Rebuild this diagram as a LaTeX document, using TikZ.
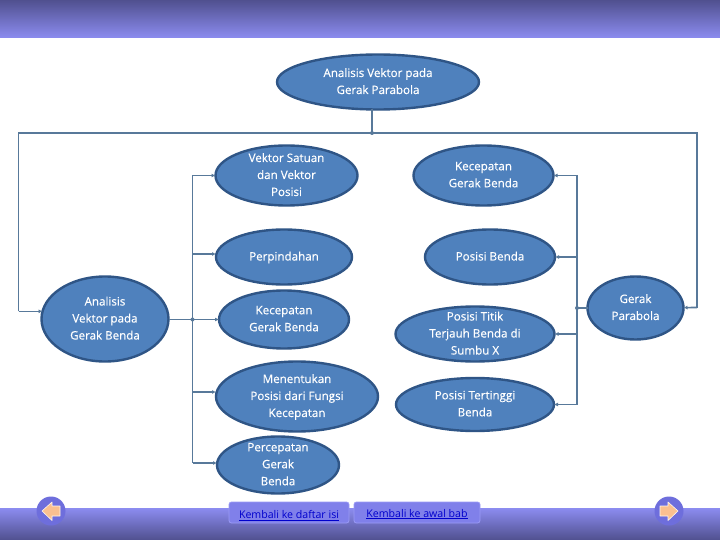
\documentclass[tikz,border=0pt]{standalone}
\usepackage{fontspec}
\setmainfont{Open Sans}
\newfontfamily\ovalfont[FakeBold=0.35]{Open Sans}
\usetikzlibrary{shapes.geometric,arrows.meta}
\definecolor{bandlight}{HTML}{8C8CF0}
\definecolor{banddark}{HTML}{50508F}
\definecolor{ellfill}{HTML}{4F81BD}
\definecolor{ellline}{HTML}{2F5586}
\definecolor{conn}{HTML}{58799A}
\definecolor{circ}{HTML}{6E6EDC}
\definecolor{arrfill}{HTML}{FAC090}
\definecolor{btnfill}{HTML}{8080EA}
\definecolor{btnline}{HTML}{9A9AF5}
\newcommand{\ctext}[1]{\makebox[0pt]{\raisebox{-.3em}[0pt][0pt]{\parbox{200pt}{\centering\baselineskip=17pt\relax\vphantom{Ag}#1\vphantom{Ag}\par}}}}
\tikzset{
  x=1pt,y=-1pt,
  ovalnode/.style={ellipse,draw=ellline,fill=ellfill,line width=2.4pt,inner sep=0pt,outer sep=0pt,text=white,font=\ovalfont\fontsize{11.6}{17}\selectfont},
  busline/.style={draw=conn,line width=1.2pt},
  feed/.style={draw=conn,line width=1.6pt,-{Latex[length=4pt,width=4pt]}},
  linkbox/.style={rectangle,rounded corners=2.5pt,draw=btnline,fill=btnfill,line width=.8pt,inner sep=0pt,text=blue!80!black,font=\fontsize{10.6}{12}\selectfont},
  navcirc/.style={circle,fill=circ,inner sep=0pt,minimum size=29pt},
  navarrow/.style={fill=arrfill,draw=white!85!arrfill,line width=.6pt,line join=round}
}
\newcommand{\ovalnode}[6]{\node[ovalnode,minimum width=#4pt,minimum height=#5pt] (#1) at (#2,#3) {\ctext{#6}};}
\begin{document}
\begin{tikzpicture}
\useasboundingbox (0,0) rectangle (720,540);
\fill[white] (0,0) rectangle (720,540);
\shade[top color=banddark,bottom color=bandlight] (0,0) rectangle (720,38);
\shade[top color=bandlight,bottom color=banddark] (0,508) rectangle (720,540);

\ovalnode{top}{378}{82}{202}{55}{Analisis Vektor pada\\Gerak Parabola}
\ovalnode{vs}{286.5}{175.5}{142}{60}{Vektor Satuan\\dan Vektor\\Posisi}
\ovalnode{pp}{284}{257}{136}{55}{Perpindahan}
\ovalnode{kr}{483.5}{175.5}{140}{60}{Kecepatan\\Gerak Benda}
\ovalnode{pb}{490}{257}{130}{55}{Posisi Benda}
\ovalnode{ag}{105}{319}{127}{85}{Analisis\\Vektor pada\\Gerak Benda}
\ovalnode{km}{284}{319.5}{130}{58}{Kecepatan\\Gerak Benda}
\ovalnode{mp}{297}{396.5}{162}{70}{Menentukan\\Posisi dari Fungsi\\Kecepatan}
\ovalnode{pc}{278}{465}{122}{57}{Percepatan\\Gerak\\Benda}
\ovalnode{pt}{475}{334}{159}{55}{Posisi Titik\\Terjauh Benda di\\Sumbu X}
\ovalnode{pu}{475}{404.5}{158}{53}{Posisi Tertinggi\\Benda}
\ovalnode{gp}{635.5}{308}{96}{63}{Gerak\\Parabola}

% routing points
\coordinate (j0) at (372,133);
\coordinate (tl) at (18.5,133);
\coordinate (tr) at (697,133);
\coordinate (bl) at (tl |- ag.173.5);
\coordinate (br) at (697,307.5);
\coordinate (lb) at (192.5,319.5);
\coordinate (lv) at (192.5,175.5);
\coordinate (lp) at (192.5,254);
\coordinate (lm) at (192.5,392);
\coordinate (lc) at (192.5,463);
\coordinate (rb) at (577,308);
\coordinate (rk) at (577,175.5);
\coordinate (rp) at (577,257);
\coordinate (rt) at (577,334);
\coordinate (ru) at (577,404.5);

\draw[draw=conn,line width=1.6pt] (top.south -| j0) -- (j0);
\fill[conn] (j0) circle (2pt);
\draw[busline] (bl) -- (tl) -- (tr) -- (br);
\draw[feed] (bl) -- (ag.173.5);
\draw[feed] (br) -- (gp);

\draw[draw=conn,line width=1.6pt] (ag.east |- lb) -- (lb);
\fill[conn] (lb) circle (2pt);
\draw[busline] (lv) -- (lc);
\draw[feed] (lv) -- (vs);
\draw[feed] (lp) -- (pp.west |- lp);
\draw[feed] (lb) -- (km);
\draw[feed] (lm) -- (mp.west |- lm);
\draw[feed] (lc) -- (pc.west |- lc);

\draw[draw=conn,line width=1.6pt] (gp) -- (rb);
\fill[conn] (rb) circle (2pt);
\draw[busline] (rk) -- (ru);
\draw[feed] (rk) -- (kr);
\draw[feed] (rp) -- (pb);
\draw[feed] (rt) -- (pt);
\draw[feed] (ru) -- (pu);

\node[navcirc] (back) at (51,511) {};
\node[navcirc] (next) at (669,511) {};
\draw[navarrow] (42,511) -- (52,502) -- (52,506) -- (60,506) -- (60,516) -- (52,516) -- (52,520.5) -- cycle;
\draw[navarrow] (678,511) -- (668,502) -- (668,506) -- (660,506) -- (660,516) -- (668,516) -- (668,520.5) -- cycle;

\node[linkbox,minimum width=120pt,minimum height=21pt,text depth=0pt,text height=7pt] (l1) at (289,512.5) {\raisebox{-2.5pt}[0pt][0pt]{\underline{Kembali ke daftar isi}}};
\node[linkbox,minimum width=126pt,minimum height=21pt,text depth=0pt,text height=7pt] (l2) at (417,512.5) {\raisebox{-1pt}[0pt][0pt]{\underline{Kembali ke awal bab}}\hspace{3pt}};
\end{tikzpicture}
\end{document}
